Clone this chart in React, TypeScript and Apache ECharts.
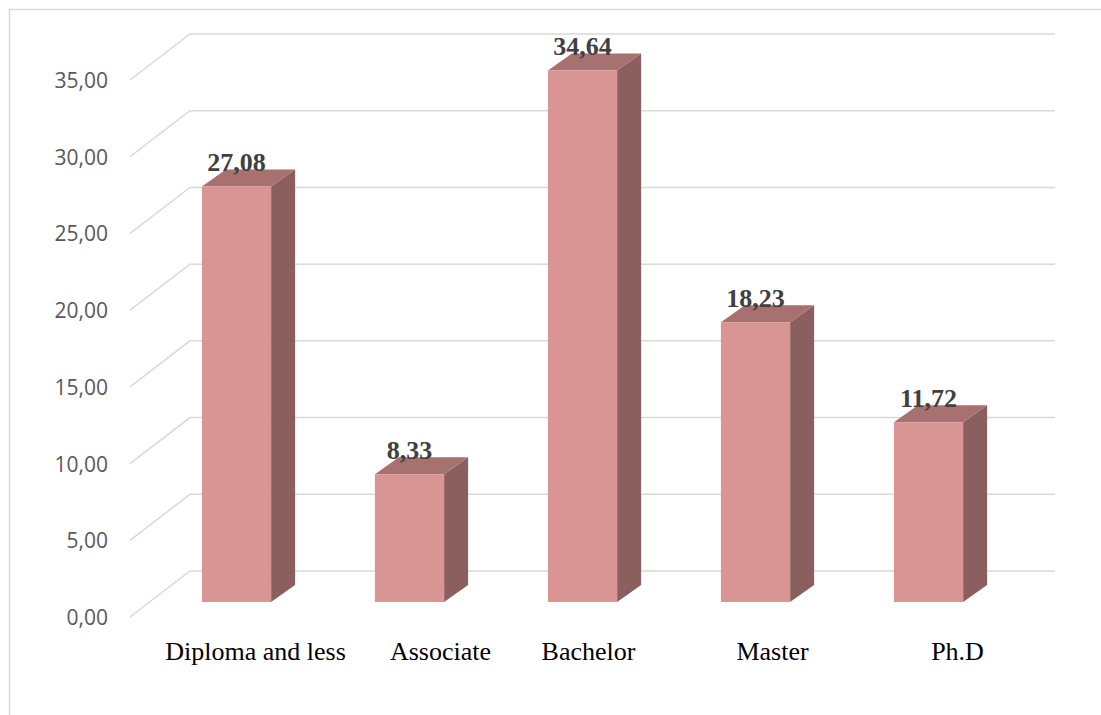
import React, { useEffect, useRef } from "react";
import * as echarts from "echarts";

// Education level distribution (%)
const categories = ["Diploma and less", "Associate", "Bachelor", "Master", "Ph.D"];
const shares = [27.08, 8.33, 34.64, 18.23, 11.72];
const yTicks = [0, 5, 10, 15, 20, 25, 30, 35];

// perspective offsets (px) relative to the plane of the bar fronts
const FRONT = { dx: -20, dy: 15 };
const BACK = { dx: 40, dy: -31 };
const DEPTH = { dx: 24, dy: -17 };
// horizontal nudge of each category caption
const tickLabelShift = [19, 31, 6, 17, 29];

const fmt = (v: number) => v.toFixed(2).replace(".", ",");

export default function App() {
  const ref = useRef<HTMLDivElement>(null);

  useEffect(() => {
    if (!ref.current) return;
    const chart = echarts.init(ref.current, null, { renderer: "svg" });

    const rich: Record<string, any> = {};
    tickLabelShift.forEach((s, i) => {
      rich["c" + i] = {
        fontFamily: "Liberation Serif",
        fontSize: 26,
        color: "#000000",
        padding: [0, 0, 0, 2 * s],
      };
    });

    chart.setOption({
      animation: false,
      backgroundColor: "#ffffff",
      graphic: [
        {
          type: "rect",
          shape: { x: 9.5, y: 9.5, width: 1200, height: 800 },
          style: { fill: "none", stroke: "#d9d9d9", lineWidth: 1.5 },
          silent: true,
          z: -10,
        },
      ],
      grid: [
        { left: 150, right: 86, top: 65, bottom: 113 },
        { left: 130, right: 106, top: 80, bottom: 98 },
      ],
      xAxis: [
        {
          type: "category",
          gridIndex: 0,
          data: categories,
          axisLine: { show: false },
          axisTick: { show: false },
          axisLabel: {
            margin: 36,
            formatter: (v: string, i: number) => `{c${i}|${v}}`,
            rich,
          },
        },
        {
          type: "category",
          gridIndex: 1,
          data: categories,
          show: false,
        },
      ],
      yAxis: [
        {
          type: "value",
          gridIndex: 0,
          min: 0,
          max: 35,
          interval: 5,
          show: false,
          splitLine: { show: false },
        },
        {
          type: "value",
          gridIndex: 1,
          min: 0,
          max: 35,
          interval: 5,
          axisLine: { show: false },
          axisTick: { show: false },
          splitLine: { show: false },
          axisLabel: {
            margin: 22,
            formatter: (v: number) => fmt(v),
            fontFamily: "Open Sans",
            fontSize: 21,
            color: "#595959",
          },
        },
      ],
      series: [
        {
          // floor-to-wall gridlines drawn in perspective
          type: "custom",
          xAxisIndex: 0,
          yAxisIndex: 0,
          z: 1,
          silent: true,
          data: yTicks.map((t) => [0, t]),
          renderItem: (params: any, api: any) => {
            const cs = params.coordSys;
            const y = api.coord([0, api.value(1)])[1];
            const x0 = cs.x;
            const x1 = cs.x + cs.width;
            return {
              type: "polyline",
              shape: {
                points: [
                  [x0 + FRONT.dx, y + FRONT.dy],
                  [x0 + BACK.dx, y + BACK.dy],
                  [x1 + BACK.dx, y + BACK.dy],
                ],
              },
              style: { stroke: "#d9d9d9", lineWidth: 1.5, fill: "none" },
            };
          },
        },
        {
          // 3D columns with value captions
          type: "custom",
          xAxisIndex: 0,
          yAxisIndex: 0,
          z: 5,
          data: shares.map((v, i) => [i, v]),
          renderItem: (params: any, api: any) => {
            const i = api.value(0);
            const v = api.value(1);
            const top = api.coord([i, v]);
            const base = api.coord([i, 0]);
            const w = api.size([1, 0])[0] * 0.4;
            const l = top[0] - w / 2;
            const r = top[0] + w / 2;
            const yt = top[1];
            const yb = base[1];
            return {
              type: "group",
              children: [
                {
                  type: "polygon",
                  shape: {
                    points: [
                      [r, yt],
                      [r + DEPTH.dx, yt + DEPTH.dy],
                      [r + DEPTH.dx, yb + DEPTH.dy],
                      [r, yb],
                    ],
                  },
                  style: { fill: "#8b5f5e" },
                },
                {
                  type: "polygon",
                  shape: {
                    points: [
                      [l, yt],
                      [l + DEPTH.dx, yt + DEPTH.dy],
                      [r + DEPTH.dx, yt + DEPTH.dy],
                      [r, yt],
                    ],
                  },
                  style: { fill: "#a6716f" },
                },
                {
                  type: "rect",
                  shape: { x: l, y: yt, width: w, height: yb - yt },
                  style: { fill: "#d99594" },
                },
                {
                  type: "text",
                  x: top[0],
                  y: yt + DEPTH.dy + 6,
                  style: {
                    text: fmt(v),
                    fontFamily: "Liberation Serif",
                    fontWeight: "bold",
                    fontSize: 26,
                    fill: "#404040",
                    align: "center",
                    verticalAlign: "bottom",
                  },
                },
              ],
            };
          },
        },
      ],
    });

    return () => chart.dispose();
  }, []);

  return (
    <div
      ref={ref}
      style={{ position: "absolute", left: 0, top: 0, width: 1101, height: 715 }}
    />
  );
}
